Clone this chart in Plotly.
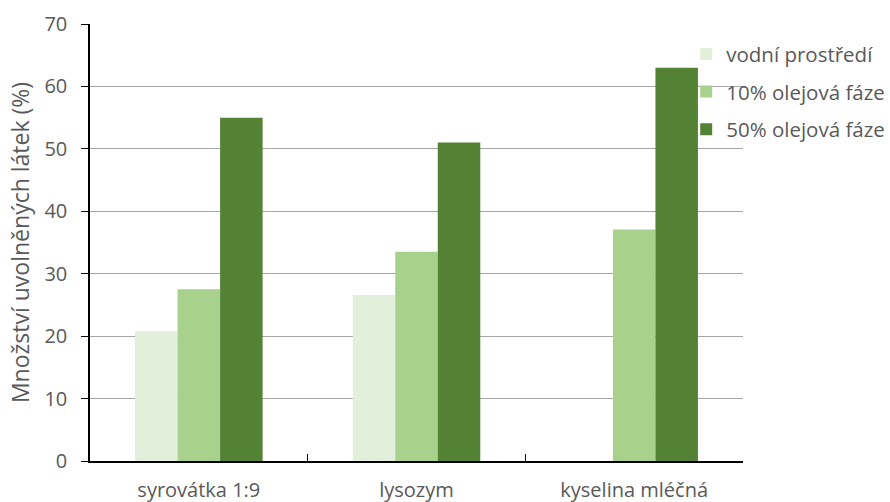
import plotly.graph_objects as go

# Released substance share (%) per preservative and medium
categories = ["syrovátka 1:9", "lysozym", "kyselina mléčná"]
series_names = ["vodní prostředí", "10% olejová fáze", "50% olejová fáze"]
vodni = [20.8, 26.6, 0]
olej10 = [27.5, 33.5, 37.1]
olej50 = [55.0, 51.0, 63.0]
colors = ["#e2efda", "#a9d18e", "#548235"]

FONT = "'Open Sans', Lato, sans-serif"
TXT = "#595959"

fig = go.Figure()
for name, vals, col in zip(series_names, [vodni, olej10, olej50], colors):
    fig.add_trace(go.Bar(
        x=categories, y=vals, name=name, legendgroup=name,
        marker=dict(color=col, line=dict(width=0)),
    ))

fig.update_layout(
    width=890, height=502,
    margin=dict(l=90, r=147, t=24, b=41, autoexpand=False),
    paper_bgcolor="white", plot_bgcolor="white",
    barmode="group", bargap=0.414, bargroupgap=0,
    font=dict(family=FONT, size=20, color=TXT),
    legend=dict(
        x=0.913, xanchor="left", y=0.977, yanchor="top",
        bgcolor="rgba(0,0,0,0)", tracegroupgap=8,
        font=dict(family=FONT, size=20.5, color=TXT),
    ),
    xaxis=dict(
        type="category", tickson="boundaries", ticks="inside", ticklen=7,
        tickcolor="#000000", showline=True, linecolor="#000000", linewidth=1.5,
        showgrid=False, ticklabelstandoff=10, automargin=False,
        tickfont=dict(family=FONT, size=20, color=TXT),
    ),
    yaxis=dict(
        range=[0, 70], dtick=10, ticks="outside", ticklen=7, tickcolor="#000000",
        showline=True, linecolor="#000000", linewidth=1.5,
        showgrid=True, gridcolor="#a6a6a6", gridwidth=1.2, zeroline=False,
        ticklabelstandoff=10, automargin=False,
        tickfont=dict(family=FONT, size=20, color=TXT),
        title=dict(text="Množství uvolněných látek (%)", standoff=8,
                   font=dict(family=FONT, size=23, color=TXT)),
    ),
)

fig.write_html("out.html")
